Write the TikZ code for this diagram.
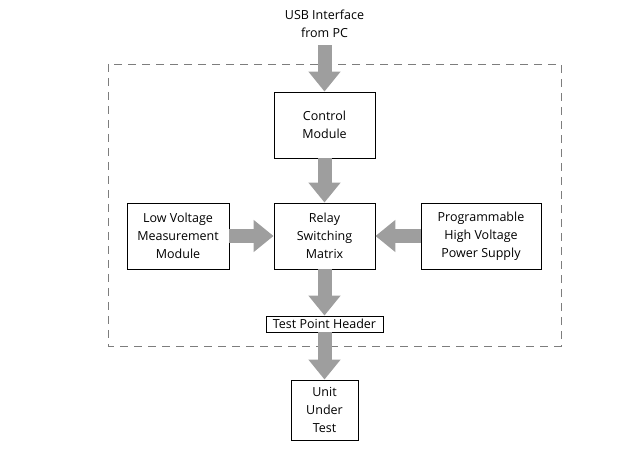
\documentclass[tikz,border=0pt]{standalone}
\usepackage{fontspec}
\setsansfont{Open Sans}
\usetikzlibrary{arrows.meta}
\definecolor{arrowgray}{RGB}{158,158,158}
\definecolor{framegray}{RGB}{125,125,125}
\begin{document}
\begin{tikzpicture}[
    x=1pt, y=-1pt,
    every node/.style={font=\sffamily\fontsize{12.5}{18}\selectfont, align=center},
    module/.style={draw, line width=0.9pt, minimum width=101pt, minimum height=66pt, inner sep=2pt},
    blockarrow/.style={draw=arrowgray, line width=14pt,
        -{Triangle[width=31pt, length=20pt]}, arrowgray}
]
\useasboundingbox (0,0) rectangle (643,473);
% enclosure
\draw[framegray, line width=0.8pt, dash pattern=on 8pt off 6pt] (108,64) rectangle (561,346);
% modules
\node (usb) at (324.5,24) {USB Interface\\from PC};
\node[module] (ctrl) at (324.5,125) {Control\\Module};
\node[module] (relay) at (324.5,236) {Relay\\Switching\\Matrix};
\node[module, minimum width=102pt] (lowv) at (178,236) {Low Voltage\\Measurement\\Module};
\node[module, minimum width=120pt] (hiv) at (481,236) {Programmable\\High Voltage\\Power Supply};
\node[draw, line width=0.9pt, minimum width=117pt, minimum height=16pt, inner sep=1pt] (tph) at (324.5,324) {Test Point Header};
\node[module, minimum width=67pt, minimum height=60pt] (uut) at (324.5,410) {Unit\\Under\\Test};
% connectors
\draw[blockarrow] (usb.south) ++(0,4) -- (ctrl.north);
\draw[blockarrow] (ctrl) -- (relay);
\draw[blockarrow] (lowv) -- (relay);
\draw[blockarrow] (hiv) -- (relay);
\draw[blockarrow] (relay) -- (tph);
\draw[blockarrow] (tph) -- (uut);
\end{tikzpicture}
\end{document}
